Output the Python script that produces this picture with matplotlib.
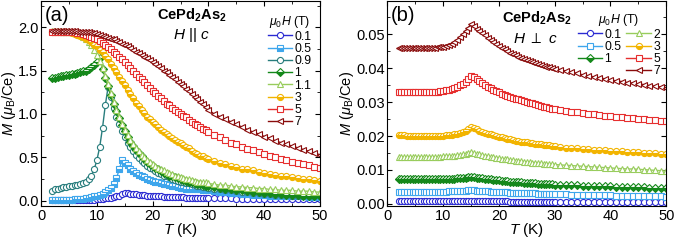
import numpy as np
import matplotlib
matplotlib.use('Agg')
import matplotlib.pyplot as plt
from matplotlib.lines import Line2D
from matplotlib.ticker import MultipleLocator, FormatStrFormatter

plt.rcParams['font.family'] = ['Liberation Sans', 'DejaVu Sans']
plt.rcParams['mathtext.fontset'] = 'custom'
plt.rcParams['mathtext.rm'] = 'Liberation Sans'
plt.rcParams['mathtext.it'] = 'Liberation Sans:italic'
plt.rcParams['mathtext.bf'] = 'Liberation Sans:bold'

# temperature grid: dense sweep up to 30 K, then 1 K steps
T_low = np.arange(2.0, 30.01, 0.5)
T_high = np.arange(31.0, 50.01, 1.0)
T = np.concatenate([T_low, T_high])

# ---- panel (a): H || c, M in muB/Ce ----
a_fields = ['0.1', '0.5', '0.9', '1', '1.1', '3', '5', '7']

a_0p1 = [0.005, 0.005, 0.005, 0.005, 0.005, 0.005, 0.005, 0.005, 0.005, 0.005,
         0.006, 0.007, 0.008, 0.010, 0.012, 0.014, 0.017, 0.020, 0.023, 0.027,
         0.031, 0.036, 0.042, 0.050, 0.060, 0.075, 0.090, 0.088, 0.083, 0.078,
         0.074, 0.070, 0.066, 0.063, 0.060, 0.057, 0.055, 0.053, 0.051, 0.049,
         0.047, 0.046, 0.044, 0.043, 0.042, 0.040, 0.039, 0.038, 0.037, 0.036,
         0.035, 0.034, 0.033, 0.033, 0.032, 0.031, 0.030,
         0.029, 0.028, 0.027, 0.026, 0.025, 0.024, 0.023, 0.022, 0.021, 0.021,
         0.020, 0.019, 0.019, 0.018, 0.018, 0.017, 0.017, 0.016, 0.016, 0.015]

a_0p5 = [0.01, 0.01, 0.01, 0.01, 0.01, 0.01, 0.01, 0.01, 0.02, 0.02,
         0.02, 0.02, 0.03, 0.03, 0.04, 0.05, 0.06, 0.07, 0.08, 0.10,
         0.12, 0.15, 0.19, 0.26, 0.36, 0.47, 0.44, 0.41, 0.37, 0.34,
         0.32, 0.30, 0.28, 0.27, 0.25, 0.24, 0.23, 0.22, 0.21, 0.20,
         0.19, 0.19, 0.18, 0.17, 0.17, 0.16, 0.15, 0.15, 0.14, 0.14,
         0.14, 0.13, 0.13, 0.13, 0.12, 0.12, 0.12,
         0.11, 0.10, 0.10, 0.09, 0.09, 0.08, 0.08, 0.07, 0.07, 0.07,
         0.06, 0.06, 0.06, 0.05, 0.05, 0.05, 0.05, 0.04, 0.04, 0.04]

a_0p9 = [0.11, 0.13, 0.14, 0.15, 0.16, 0.16, 0.17, 0.17, 0.18, 0.18,
         0.19, 0.20, 0.22, 0.25, 0.29, 0.36, 0.47, 0.62, 0.84, 1.10,
         1.31, 1.20, 1.07, 0.97, 0.88, 0.80, 0.73, 0.67, 0.62, 0.57,
         0.53, 0.49, 0.46, 0.43, 0.40, 0.38, 0.36, 0.34, 0.32, 0.31,
         0.29, 0.28, 0.27, 0.25, 0.24, 0.23, 0.22, 0.21, 0.20, 0.20,
         0.19, 0.18, 0.17, 0.17, 0.16, 0.16, 0.15,
         0.14, 0.13, 0.12, 0.12, 0.11, 0.10, 0.10, 0.09, 0.09, 0.08,
         0.08, 0.07, 0.07, 0.07, 0.06, 0.06, 0.06, 0.05, 0.05, 0.05]

a_1 = [1.41, 1.42, 1.43, 1.44, 1.44, 1.45, 1.45, 1.46, 1.46, 1.47,
       1.48, 1.49, 1.50, 1.52, 1.54, 1.57, 1.60, 1.64, 1.52, 1.42,
       1.32, 1.22, 1.12, 1.03, 0.95, 0.87, 0.80, 0.74, 0.68, 0.63,
       0.59, 0.55, 0.51, 0.48, 0.45, 0.42, 0.40, 0.38, 0.36, 0.34,
       0.32, 0.31, 0.29, 0.28, 0.27, 0.26, 0.25, 0.24, 0.23, 0.22,
       0.21, 0.20, 0.19, 0.19, 0.18, 0.17, 0.17,
       0.16, 0.15, 0.14, 0.13, 0.12, 0.12, 0.11, 0.10, 0.10, 0.09,
       0.09, 0.08, 0.08, 0.07, 0.07, 0.07, 0.06, 0.06, 0.06, 0.05]

a_1p1 = [1.96, 1.96, 1.96, 1.96, 1.95, 1.95, 1.95, 1.94, 1.93, 1.92,
         1.91, 1.89, 1.86, 1.83, 1.79, 1.74, 1.68, 1.61, 1.53, 1.44,
         1.34, 1.24, 1.14, 1.05, 0.97, 0.89, 0.82, 0.76, 0.70, 0.65,
         0.61, 0.57, 0.53, 0.50, 0.47, 0.45, 0.42, 0.40, 0.38, 0.36,
         0.35, 0.33, 0.32, 0.31, 0.29, 0.28, 0.27, 0.26, 0.25, 0.25,
         0.24, 0.23, 0.22, 0.22, 0.21, 0.21, 0.20,
         0.19, 0.18, 0.18, 0.17, 0.16, 0.16, 0.15, 0.15, 0.14, 0.14,
         0.13, 0.13, 0.12, 0.12, 0.12, 0.11, 0.11, 0.11, 0.10, 0.10]

a_3 = [1.95, 1.95, 1.95, 1.95, 1.94, 1.94, 1.94, 1.93, 1.92, 1.91,
       1.90, 1.89, 1.87, 1.85, 1.83, 1.80, 1.78, 1.74, 1.71, 1.67,
       1.63, 1.58, 1.53, 1.48, 1.43, 1.38, 1.33, 1.28, 1.23, 1.18,
       1.13, 1.09, 1.05, 1.01, 0.97, 0.94, 0.91, 0.88, 0.85, 0.82,
       0.79, 0.77, 0.75, 0.72, 0.70, 0.68, 0.66, 0.64, 0.62, 0.61,
       0.57, 0.55, 0.54, 0.52, 0.51, 0.49, 0.48,
       0.46, 0.44, 0.42, 0.40, 0.39, 0.37, 0.36, 0.35, 0.33, 0.32,
       0.31, 0.30, 0.29, 0.28, 0.27, 0.26, 0.25, 0.25, 0.24, 0.23]

a_5 = [1.95, 1.95, 1.95, 1.95, 1.95, 1.95, 1.95, 1.94, 1.94, 1.93,
       1.93, 1.92, 1.91, 1.90, 1.89, 1.88, 1.86, 1.84, 1.82, 1.80,
       1.77, 1.75, 1.72, 1.69, 1.66, 1.63, 1.60, 1.56, 1.53, 1.50,
       1.46, 1.43, 1.40, 1.37, 1.33, 1.30, 1.27, 1.24, 1.21, 1.18,
       1.15, 1.12, 1.10, 1.07, 1.05, 1.02, 1.00, 0.98, 0.96, 0.93,
       0.91, 0.89, 0.87, 0.85, 0.83, 0.81, 0.79,
       0.76, 0.73, 0.70, 0.67, 0.65, 0.62, 0.60, 0.58, 0.56, 0.54,
       0.52, 0.50, 0.48, 0.47, 0.45, 0.44, 0.42, 0.41, 0.39, 0.38]

a_7 = [1.96, 1.96, 1.96, 1.96, 1.96, 1.96, 1.96, 1.96, 1.96, 1.95,
       1.95, 1.95, 1.94, 1.94, 1.93, 1.93, 1.92, 1.91, 1.90, 1.89,
       1.88, 1.87, 1.86, 1.84, 1.83, 1.81, 1.80, 1.78, 1.76, 1.74,
       1.72, 1.70, 1.68, 1.66, 1.64, 1.62, 1.60, 1.58, 1.55, 1.53,
       1.50, 1.48, 1.45, 1.43, 1.40, 1.37, 1.34, 1.32, 1.29, 1.26,
       1.23, 1.20, 1.17, 1.14, 1.11, 1.08, 1.05,
       1.00, 0.97, 0.94, 0.91, 0.88, 0.85, 0.82, 0.79, 0.77, 0.74,
       0.72, 0.69, 0.67, 0.65, 0.63, 0.61, 0.59, 0.57, 0.55, 0.53]

# ---- panel (b): H perp c ----
b_fields = ['0.1', '0.5', '1', '2', '3', '5', '7']

b_0p1 = [0.0008, 0.0008, 0.0008, 0.0008, 0.0008, 0.0008, 0.0008, 0.0008, 0.0008, 0.0008,
         0.0008, 0.0008, 0.0008, 0.0008, 0.0008, 0.0008, 0.0008, 0.0008, 0.0008, 0.0008,
         0.0008, 0.0008, 0.0008, 0.0008, 0.0008, 0.0008, 0.0009, 0.0008, 0.0008, 0.0008,
         0.0008, 0.0008, 0.0008, 0.0008, 0.0008, 0.0008, 0.0008, 0.0008, 0.0008, 0.0008,
         0.0007, 0.0007, 0.0007, 0.0007, 0.0007, 0.0007, 0.0007, 0.0007, 0.0007, 0.0007,
         0.0007, 0.0007, 0.0007, 0.0007, 0.0007, 0.0007, 0.0007,
         0.0007, 0.0007, 0.0007, 0.0007, 0.0007, 0.0007, 0.0007, 0.0007, 0.0006, 0.0006,
         0.0006, 0.0006, 0.0006, 0.0006, 0.0006, 0.0006, 0.0005, 0.0005, 0.0005, 0.0005]

b_0p5 = [0.0036, 0.0036, 0.0036, 0.0036, 0.0036, 0.0036, 0.0036, 0.0036, 0.0036, 0.0036,
         0.0036, 0.0036, 0.0036, 0.0036, 0.0036, 0.0036, 0.0036, 0.0036, 0.0037, 0.0037,
         0.0037, 0.0038, 0.0038, 0.0039, 0.0039, 0.0040, 0.0041, 0.0040, 0.0039, 0.0039,
         0.0038, 0.0037, 0.0037, 0.0036, 0.0036, 0.0035, 0.0035, 0.0034, 0.0034, 0.0034,
         0.0033, 0.0033, 0.0033, 0.0032, 0.0032, 0.0032, 0.0031, 0.0031, 0.0031, 0.0031,
         0.0030, 0.0030, 0.0030, 0.0030, 0.0029, 0.0029, 0.0029,
         0.0028, 0.0028, 0.0027, 0.0027, 0.0026, 0.0026, 0.0026, 0.0025, 0.0025, 0.0025,
         0.0024, 0.0024, 0.0024, 0.0023, 0.0023, 0.0023, 0.0022, 0.0022, 0.0022, 0.0021]

b_1 = [0.0073, 0.0073, 0.0073, 0.0073, 0.0073, 0.0073, 0.0073, 0.0073, 0.0073, 0.0073,
       0.0072, 0.0072, 0.0072, 0.0072, 0.0072, 0.0072, 0.0073, 0.0073, 0.0073, 0.0074,
       0.0074, 0.0075, 0.0075, 0.0076, 0.0077, 0.0078, 0.0079, 0.0078, 0.0077, 0.0076,
       0.0075, 0.0074, 0.0073, 0.0072, 0.0071, 0.0070, 0.0069, 0.0068, 0.0068, 0.0067,
       0.0066, 0.0066, 0.0065, 0.0064, 0.0064, 0.0063, 0.0062, 0.0062, 0.0061, 0.0061,
       0.0060, 0.0060, 0.0059, 0.0059, 0.0058, 0.0058, 0.0057,
       0.0056, 0.0056, 0.0055, 0.0055, 0.0054, 0.0054, 0.0053, 0.0053, 0.0052, 0.0052,
       0.0051, 0.0051, 0.0050, 0.0050, 0.0049, 0.0049, 0.0048, 0.0048, 0.0047, 0.0047]

b_2 = [0.0138, 0.0138, 0.0138, 0.0138, 0.0138, 0.0138, 0.0138, 0.0138, 0.0138, 0.0138,
       0.0138, 0.0138, 0.0138, 0.0138, 0.0139, 0.0139, 0.0140, 0.0140, 0.0141, 0.0141,
       0.0142, 0.0143, 0.0144, 0.0146, 0.0148, 0.0150, 0.0153, 0.0151, 0.0148, 0.0146,
       0.0144, 0.0142, 0.0140, 0.0139, 0.0137, 0.0136, 0.0134, 0.0133, 0.0132, 0.0131,
       0.0130, 0.0129, 0.0128, 0.0127, 0.0126, 0.0125, 0.0124, 0.0123, 0.0122, 0.0122,
       0.0121, 0.0120, 0.0119, 0.0119, 0.0118, 0.0117, 0.0116,
       0.0115, 0.0114, 0.0113, 0.0112, 0.0111, 0.0110, 0.0109, 0.0108, 0.0107, 0.0106,
       0.0105, 0.0104, 0.0103, 0.0103, 0.0102, 0.0101, 0.0100, 0.0099, 0.0098, 0.0097]

b_3 = [0.0202, 0.0202, 0.0202, 0.0201, 0.0201, 0.0201, 0.0200, 0.0200, 0.0200, 0.0200,
       0.0200, 0.0200, 0.0200, 0.0200, 0.0200, 0.0201, 0.0201, 0.0202, 0.0203, 0.0204,
       0.0205, 0.0207, 0.0209, 0.0212, 0.0215, 0.0220, 0.0227, 0.0224, 0.0220, 0.0216,
       0.0213, 0.0210, 0.0207, 0.0205, 0.0202, 0.0200, 0.0198, 0.0196, 0.0194, 0.0192,
       0.0190, 0.0189, 0.0187, 0.0186, 0.0184, 0.0183, 0.0182, 0.0181, 0.0179, 0.0178,
       0.0177, 0.0176, 0.0175, 0.0174, 0.0173, 0.0172, 0.0171,
       0.0168, 0.0166, 0.0165, 0.0164, 0.0162, 0.0161, 0.0160, 0.0159, 0.0158, 0.0157,
       0.0156, 0.0155, 0.0154, 0.0153, 0.0152, 0.0151, 0.0150, 0.0149, 0.0148, 0.0147]

b_5 = [0.0329, 0.0329, 0.0329, 0.0329, 0.0329, 0.0329, 0.0329, 0.0329, 0.0329, 0.0329,
       0.0329, 0.0329, 0.0330, 0.0330, 0.0331, 0.0332, 0.0333, 0.0335, 0.0337, 0.0340,
       0.0343, 0.0346, 0.0350, 0.0355, 0.0361, 0.0369, 0.0378, 0.0374, 0.0368, 0.0362,
       0.0356, 0.0351, 0.0346, 0.0341, 0.0337, 0.0333, 0.0329, 0.0325, 0.0322, 0.0319,
       0.0316, 0.0313, 0.0310, 0.0308, 0.0306, 0.0303, 0.0301, 0.0299, 0.0297, 0.0295,
       0.0291, 0.0289, 0.0287, 0.0285, 0.0283, 0.0281, 0.0279,
       0.0276, 0.0274, 0.0272, 0.0270, 0.0268, 0.0266, 0.0264, 0.0262, 0.0260, 0.0258,
       0.0257, 0.0255, 0.0254, 0.0252, 0.0251, 0.0249, 0.0248, 0.0247, 0.0245, 0.0244]

b_7 = [0.0459, 0.0459, 0.0459, 0.0459, 0.0459, 0.0459, 0.0459, 0.0459, 0.0460, 0.0460,
       0.0460, 0.0460, 0.0461, 0.0461, 0.0462, 0.0463, 0.0464, 0.0466, 0.0469, 0.0473,
       0.0478, 0.0484, 0.0492, 0.0500, 0.0510, 0.0520, 0.0530, 0.0524, 0.0517, 0.0510,
       0.0503, 0.0497, 0.0490, 0.0484, 0.0478, 0.0472, 0.0466, 0.0461, 0.0456, 0.0451,
       0.0446, 0.0442, 0.0438, 0.0434, 0.0430, 0.0427, 0.0424, 0.0421, 0.0418, 0.0415,
       0.0412, 0.0410, 0.0407, 0.0405, 0.0403, 0.0401, 0.0399,
       0.0396, 0.0392, 0.0388, 0.0385, 0.0381, 0.0378, 0.0375, 0.0372, 0.0369, 0.0366,
       0.0363, 0.0361, 0.0358, 0.0356, 0.0354, 0.0352, 0.0349, 0.0347, 0.0345, 0.0343]

# colours / markers (fill: 'open' or 'half')
BLUE, LBLUE, TEAL, GREEN = '#2a2ad2', '#3ea6ec', '#287d7d', '#14881a'
LGREEN, GOLD, RED, DRED = '#98cc5c', '#f2b400', '#e62e2e', '#8a0c0c'

a_styles = [(BLUE, 'o', 'open'), (LBLUE, 's', 'half'), (TEAL, 'o', 'open'),
            (GREEN, 'D', 'half'), (LGREEN, '^', 'open'), (GOLD, 'o', 'half'),
            (RED, 's', 'open'), (DRED, '<', 'open')]
b_styles = [(BLUE, 'o', 'open'), (LBLUE, 's', 'open'), (GREEN, 'D', 'half'),
            (LGREEN, '^', 'open'), (GOLD, 'o', 'half'), (RED, 's', 'open'),
            (DRED, '<', 'open')]


def marker_kw(color, marker, fill):
    kw = dict(color=color, marker=marker, mec=color, mew=0.8, lw=1.0)
    kw['ms'] = 3.8 if marker == 'D' else 4.4
    if fill == 'half':
        kw.update(fillstyle='bottom', mfc=color, mfcalt='white')
    else:
        kw.update(mfc='white')
    return kw


def draw_panel(ax, data, fields, styles):
    handles = []
    for M, lab, (c, mk, fl) in zip(data, fields, styles):
        ax.plot(T, M, **marker_kw(c, mk, fl))
        handles.append(Line2D([], [], label=lab, **marker_kw(c, mk, fl)))
    ax.set_xlim(0, 50)
    ax.xaxis.set_major_locator(MultipleLocator(10))
    ax.xaxis.set_minor_locator(MultipleLocator(5))
    ax.tick_params(which='both', direction='in', top=True, right=True,
                   labelsize=10.5, pad=2)
    ax.tick_params(which='major', length=3.5)
    ax.tick_params(which='minor', length=2)
    ax.set_xlabel(r'$T$ (K)', fontsize=11, labelpad=-1)
    ax.set_ylabel(r'$M$ ($\mu_{\rm B}$/Ce)', fontsize=10.5, labelpad=0)
    return handles


fig = plt.figure(figsize=(6.75, 2.4), dpi=100)
ax_a = fig.add_axes([0.061, 0.142, 0.413, 0.853])
ax_b = fig.add_axes([0.574, 0.142, 0.413, 0.853])

# panel (a)
h_a = draw_panel(ax_a, [a_0p1, a_0p5, a_0p9, a_1, a_1p1, a_3, a_5, a_7],
                 a_fields, a_styles)
ax_a.set_ylim(-0.06, 2.3)
ax_a.yaxis.set_major_locator(MultipleLocator(0.5))
ax_a.yaxis.set_minor_locator(MultipleLocator(0.25))
ax_a.yaxis.set_major_formatter(FormatStrFormatter('%.1f'))
ax_a.text(0.012, 0.93, '(a)', transform=ax_a.transAxes, fontsize=14.5,
          va='center')
ax_a.text(0.54, 0.93, r'CePd$_\mathbf{2}$As$_\mathbf{2}$', transform=ax_a.transAxes,
          fontsize=10.5, fontweight='bold', ha='center', va='center')
ax_a.text(0.54, 0.835, r'$H$ || $c$', transform=ax_a.transAxes,
          fontsize=11, ha='center', va='center')
ax_a.legend(handles=h_a, loc='upper left', bbox_to_anchor=(0.79, 0.965),
            frameon=False, fontsize=8.8, title=r'$\mu_0H$ (T)',
            title_fontsize=8.8, handlelength=2.0, handletextpad=0.2,
            labelspacing=0.02, borderpad=0, numpoints=1)

# panel (b)
h_b = draw_panel(ax_b, [b_0p1, b_0p5, b_1, b_2, b_3, b_5, b_7],
                 b_fields, b_styles)
ax_b.set_ylim(-0.0006, 0.0598)
ax_b.yaxis.set_major_locator(MultipleLocator(0.01))
ax_b.yaxis.set_minor_locator(MultipleLocator(0.005))
ax_b.yaxis.set_major_formatter(FormatStrFormatter('%.2f'))
ax_b.text(0.012, 0.93, '(b)', transform=ax_b.transAxes, fontsize=14.5,
          va='center')
ax_b.text(0.535, 0.915, r'CePd$_\mathbf{2}$As$_\mathbf{2}$', transform=ax_b.transAxes,
          fontsize=10.5, fontweight='bold', ha='center', va='center')
ax_b.text(0.53, 0.815, r'$H$ $\perp$ $c$', transform=ax_b.transAxes,
          fontsize=11, ha='center', va='center')
blank = Line2D([], [], lw=0, label=' ')
order = h_b[:3] + [blank] + h_b[3:]
ax_b.legend(handles=order, loc='upper left', bbox_to_anchor=(0.66, 0.975),
            frameon=False, fontsize=8.8, title=r'$\mu_0H$ (T)',
            title_fontsize=8.8, handlelength=2.0, handletextpad=0.2,
            labelspacing=0.02, borderpad=0, numpoints=1, ncol=2,
            columnspacing=0.4)

fig.savefig('out.png', dpi=100)
